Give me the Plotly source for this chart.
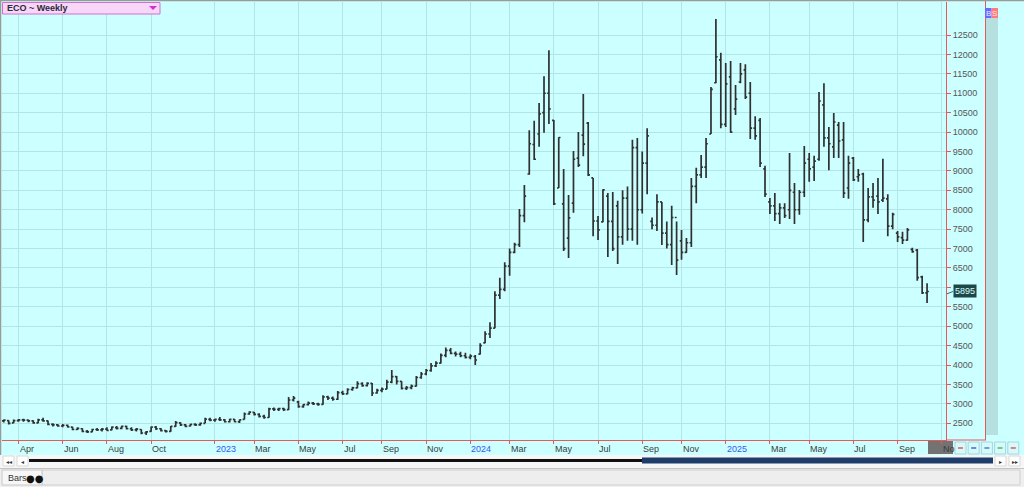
import plotly.graph_objects as go
import pandas as pd

# ---------------- data ----------------
symbol_title = "ECO ~ Weekly"
first_week = "2022-03-11"          # weekly bars, dated Fridays
last_price_label = "5895"

opens = [2560, 2570, 2510, 2570, 2590, 2580, 2560, 2510, 2590, 2560,
         2470, 2460, 2430, 2450, 2400, 2340, 2360, 2290, 2280, 2340,
         2330, 2350, 2330, 2390, 2370, 2420, 2360, 2330, 2340, 2250,
         2290, 2400, 2360, 2310, 2290, 2420, 2510, 2460, 2430, 2470,
         2460, 2500, 2600, 2580, 2600, 2590, 2540, 2600, 2540, 2600,
         2740, 2780, 2730, 2680, 2650, 2870, 2860, 2880, 2850, 3100,
         3050, 2930, 2980, 3020, 3000, 2990, 3180, 3150, 3120, 3290,
         3260, 3370, 3410, 3520, 3470, 3530, 3280, 3350, 3380, 3560,
         3700, 3580, 3400, 3420, 3460, 3680, 3770, 3860, 3980, 4050,
         4250, 4380, 4300, 4280, 4240, 4200, 4220, 4280, 4570, 4800,
         4950, 5800, 5950, 6550, 6900, 7100, 7850, 8920, 9680, 9950,
         10500, 11000, 10300, 8560, 8150, 7270, 8170, 9330, 9920, 10230,
         8820, 7710, 7690, 8350, 7700, 8100, 7300, 8300, 7500, 9600,
         8000, 9200, 7700, 7600, 8200, 7400, 7100, 7800, 7200, 6900,
         7150, 8600, 8900, 9100, 9950, 11270, 11860, 10200, 11420, 10600,
         11290, 11600, 11000, 10100, 10300, 9050, 8200, 8100, 7900, 8050,
         8000, 8450, 8000, 8450, 9300, 9100, 9300, 10700, 9850, 9620,
         10180, 9800, 8560, 9330, 8850, 8920, 7740, 8330, 8350, 8250,
         8280, 7580, 7400, 7280, 7220, 6980, 6960, 6270, 5860]
highs = [2600, 2580, 2600, 2610, 2620, 2600, 2580, 2620, 2640, 2570,
         2500, 2480, 2480, 2470, 2410, 2400, 2370, 2330, 2360, 2380,
         2380, 2400, 2420, 2430, 2440, 2440, 2400, 2380, 2350, 2300,
         2420, 2430, 2380, 2330, 2430, 2560, 2530, 2480, 2490, 2500,
         2520, 2640, 2640, 2620, 2660, 2610, 2620, 2610, 2600, 2780,
         2810, 2790, 2760, 2720, 2900, 2910, 2900, 2900, 3180, 3200,
         3080, 3000, 3060, 3050, 3030, 3220, 3210, 3190, 3330, 3340,
         3400, 3440, 3580, 3560, 3560, 3540, 3390, 3420, 3620, 3870,
         3720, 3580, 3460, 3500, 3720, 3820, 3900, 4050, 4100, 4300,
         4450, 4440, 4350, 4340, 4320, 4280, 4260, 4560, 4870, 5100,
         5900, 6250, 6650, 7000, 7150, 8020, 8640, 10050, 10290, 10750,
         11440, 12110, 10310, 9870, 9050, 8380, 9510, 10000, 10980, 10260,
         8820, 7840, 8530, 8430, 8460, 8230, 8500, 8600, 9800, 9850,
         9500, 10100, 7800, 8400, 8200, 7700, 8100, 7700, 7480, 7270,
         8820, 9080, 9410, 9850, 11160, 12910, 12040, 11780, 11830, 11210,
         11780, 11750, 11290, 10410, 10360, 9130, 8300, 8430, 8170, 8170,
         9460, 8690, 8510, 9640, 9460, 9390, 11030, 11260, 10130, 10490,
         10260, 10260, 9390, 9360, 9050, 8950, 8560, 8690, 8820, 9310,
         8400, 7920, 7450, 7430, 7530, 7020, 6990, 6300, 6110]
lows = [2520, 2470, 2500, 2540, 2540, 2530, 2490, 2500, 2540, 2450,
        2420, 2410, 2400, 2390, 2320, 2330, 2270, 2250, 2270, 2300,
        2290, 2310, 2320, 2340, 2350, 2340, 2300, 2290, 2220, 2200,
        2280, 2330, 2290, 2260, 2280, 2410, 2430, 2400, 2420, 2430,
        2440, 2500, 2550, 2540, 2560, 2520, 2520, 2530, 2510, 2600,
        2720, 2700, 2650, 2620, 2640, 2820, 2820, 2820, 2840, 3060,
        2900, 2900, 2960, 2970, 2950, 2980, 3100, 3080, 3100, 3230,
        3250, 3340, 3400, 3440, 3450, 3200, 3260, 3300, 3380, 3530,
        3500, 3370, 3360, 3380, 3450, 3650, 3740, 3830, 3950, 4040,
        4200, 4280, 4220, 4200, 4170, 4150, 4000, 4270, 4560, 4700,
        4950, 5700, 5900, 6300, 6880, 7040, 7680, 8900, 9280, 9620,
        9980, 10210, 8120, 8560, 6940, 6760, 7920, 9100, 9380, 8870,
        7320, 7220, 7680, 6780, 6940, 6600, 7100, 7200, 7200, 7100,
        7900, 8400, 7500, 7450, 7090, 7000, 6580, 6320, 6710, 6890,
        7040, 8170, 8820, 8820, 9950, 11260, 10100, 10130, 9980, 10440,
        11260, 10850, 9820, 9800, 9100, 8330, 7890, 7710, 7630, 7790,
        7760, 7630, 7870, 8330, 8720, 8740, 9260, 9620, 9020, 9330,
        9330, 8300, 8280, 8740, 8720, 7170, 7680, 8050, 7890, 8200,
        7320, 7500, 7170, 7120, 7200, 6890, 6170, 5830, 5600]
closes = [2580, 2500, 2570, 2590, 2580, 2560, 2510, 2590, 2560, 2470,
          2460, 2430, 2450, 2410, 2340, 2370, 2290, 2280, 2340, 2330,
          2350, 2320, 2400, 2370, 2420, 2360, 2330, 2350, 2250, 2280,
          2400, 2360, 2310, 2290, 2420, 2520, 2460, 2420, 2470, 2460,
          2500, 2610, 2580, 2600, 2590, 2540, 2600, 2540, 2590, 2740,
          2790, 2730, 2680, 2650, 2870, 2860, 2880, 2850, 3100, 3150,
          2930, 2980, 3020, 3000, 2990, 3180, 3150, 3120, 3290, 3260,
          3370, 3410, 3520, 3470, 3530, 3280, 3350, 3380, 3560, 3700,
          3580, 3400, 3420, 3460, 3680, 3770, 3860, 3980, 4050, 4250,
          4380, 4300, 4280, 4240, 4200, 4230, 4130, 4500, 4800, 4950,
          5800, 5950, 6550, 6900, 7100, 7850, 8350, 9700, 9300, 10470,
          11000, 10600, 8150, 9860, 7000, 7790, 9300, 9150, 9690, 8900,
          7710, 7480, 8510, 7700, 7000, 7300, 8300, 7500, 9600, 8000,
          9200, 9900, 7600, 8200, 7400, 7100, 7800, 6700, 6900, 7150,
          8600, 8900, 9100, 9700, 11100, 11940, 10200, 11240, 10000, 10850,
          11500, 10900, 10100, 9900, 9200, 8400, 8100, 7900, 8050, 7850,
          8500, 8000, 8450, 9200, 9050, 9250, 10800, 9850, 9700, 10260,
          9770, 8430, 9200, 8770, 8900, 7740, 8330, 8250, 8200, 8300,
          7580, 7880, 7300, 7220, 7480, 6920, 6250, 5860, 5895]

ytick_values = list(range(2500, 13000, 500))
ytick_labels = ["" if v == 6000 else str(v) for v in ytick_values]   # 6000 is hidden by the last-price box
xtick_dates = ["2022-04-01", "2022-06-03", "2022-08-05", "2022-10-07",
               "2023-01-06", "2023-03-03", "2023-05-05", "2023-07-07",
               "2023-09-01", "2023-11-03", "2024-01-05", "2024-03-01",
               "2024-05-03", "2024-07-05", "2024-09-06", "2024-11-01",
               "2025-01-03", "2025-03-07", "2025-05-02", "2025-07-04",
               "2025-09-05", "2025-11-07"]
xtick_labels = ["Apr", "Jun", "Aug", "Oct", "2023", "Mar", "May", "Jul",
                "Sep", "Nov", "2024", "Mar", "May", "Jul", "Sep", "Nov",
                "2025", "Mar", "May", "Jul", "Sep", "No"]

dates = pd.date_range(first_week, periods=len(closes), freq="7D")

# ---------------- layout geometry (pixels) ----------------
W, H = 1024, 487
PL, PR, PT, PB = 2, 946, 2, 440
PX_PER_DAY = 4.911 / 7.0
FIRST_BAR_PX = 3.8
t0 = pd.Timestamp(first_week)
x_start = t0 - pd.Timedelta(days=(FIRST_BAR_PX - PL) / PX_PER_DAY)
x_end = t0 + pd.Timedelta(days=(PR - FIRST_BAR_PX) / PX_PER_DAY)
y_lo, y_hi = 2070, 13350


def fx(px):
    return (px - PL) / (PR - PL)


def fy(py):
    return (PB - py) / (PB - PT)


BG = "#ccffff"
GRID = "#b2e6e6"
RED = "#e8585a"
BAR = "#303030"
FONT = "Liberation Sans"

fig = go.Figure()
fig.add_trace(go.Ohlc(
    x=dates, open=opens, high=highs, low=lows, close=closes,
    increasing=dict(line=dict(color=BAR, width=1.7)),
    decreasing=dict(line=dict(color=BAR, width=1.7)),
    tickwidth=0.36, showlegend=False, hoverinfo="skip",
))

shapes = []
annotations = []


def label(px, py, text, size=9, color="#333333", family=FONT, xanchor="center", **kw):
    annotations.append(dict(xref="paper", yref="paper", x=fx(px), y=fy(py), text=text,
                            xanchor=xanchor, yanchor="middle", showarrow=False,
                            font=dict(family=family, size=size, color=color), **kw))


# outer frame (top/left gray)
shapes.append(dict(type="line", xref="paper", yref="paper", x0=fx(0), x1=fx(W),
                   y0=fy(0.5), y1=fy(0.5), line=dict(color="#9a9a9a", width=1.5)))
shapes.append(dict(type="line", xref="paper", yref="paper", x0=fx(0.5), x1=fx(0.5),
                   y0=fy(0), y1=fy(H), line=dict(color="#9a9a9a", width=1.5)))
# right axis panel border and extended x-axis line
shapes.append(dict(type="line", xref="paper", yref="paper", x0=fx(985.5), x1=fx(985.5),
                   y0=fy(1), y1=fy(440), line=dict(color=RED, width=1)))
shapes.append(dict(type="line", xref="paper", yref="paper", x0=fx(946), x1=fx(986),
                   y0=fy(440), y1=fy(440), line=dict(color=RED, width=1)))
# side strip
shapes.append(dict(type="rect", xref="paper", yref="paper", x0=fx(986), x1=fx(998),
                   y0=fy(18), y1=fy(435), fillcolor="#b6e0e0", line=dict(width=0)))
# B / S boxes
shapes.append(dict(type="rect", xref="paper", yref="paper", x0=fx(985), x1=fx(991.5),
                   y0=fy(8), y1=fy(18), fillcolor="#6a6aff", line=dict(width=0)))
shapes.append(dict(type="rect", xref="paper", yref="paper", x0=fx(991.5), x1=fx(998),
                   y0=fy(8), y1=fy(18), fillcolor="#ff7a7a", line=dict(width=0)))
label(988.3, 13, "B", size=8, color="#e8e8ff")
label(994.8, 13, "S", size=8, color="#ffe8e8")

# title box
shapes.append(dict(type="rect", xref="paper", yref="paper", x0=fx(2.5), x1=fx(160),
                   y0=fy(2.5), y1=fy(14), fillcolor="#f7d6f7", line=dict(color="#d070d0", width=1)))
shapes.append(dict(type="path", xref="paper", yref="paper",
                   path=f"M {fx(149)},{fy(6)} L {fx(157)},{fy(6)} L {fx(153)},{fy(10)} Z",
                   fillcolor="#d030d0", line=dict(width=0)))
label(5, 8.5, "<b>" + symbol_title + "</b>", size=9, color="#2a2a3a", xanchor="left")

# x-axis labels (left-aligned at month ticks)
for d, lab in zip(xtick_dates, xtick_labels):
    is_year = lab.isdigit()
    annotations.append(dict(xref="x", yref="paper", x=d, y=fy(448.5), text=lab,
                            xanchor="left", yanchor="middle", showarrow=False, xshift=-1,
                            font=dict(family=FONT, size=9, color="#3a55f0" if is_year else "#3c3c3c")))

# gray "current" block on the time axis
shapes.append(dict(type="rect", xref="paper", yref="paper", x0=fx(928), x1=fx(953),
                   y0=fy(441), y1=fy(454), fillcolor="#737373", line=dict(width=0), layer="below"))

# little toolbar buttons at bottom right
btn_colors = ["#e03030", "#2040d0", "#2060e0", "#20b040", "#e03030"]
for k, c in enumerate(btn_colors):
    x0 = 955 + k * 13.2
    shapes.append(dict(type="rect", xref="paper", yref="paper", x0=fx(x0), x1=fx(x0 + 11),
                       y0=fy(442), y1=fy(454), fillcolor="#d6fafa", line=dict(color="#a8d4e0", width=1)))
    shapes.append(dict(type="line", xref="paper", yref="paper", x0=fx(x0 + 3), x1=fx(x0 + 8),
                       y0=fy(448), y1=fy(448), line=dict(color=c, width=1.2)))

# scroll bar row
shapes.append(dict(type="rect", xref="paper", yref="paper", x0=fx(0), x1=fx(W),
                   y0=fy(455), y1=fy(468), fillcolor="#f6f6f6", line=dict(width=0)))
shapes.append(dict(type="line", xref="paper", yref="paper", x0=fx(29), x1=fx(993),
                   y0=fy(460.5), y1=fy(460.5), line=dict(color="#111111", width=3)))
shapes.append(dict(type="rect", xref="paper", yref="paper", x0=fx(642), x1=fx(993),
                   y0=fy(457.5), y1=fy(463.5), fillcolor="#1f3d6a", line=dict(width=0)))
for x0, g in [(3, "◂◂"), (17, "◂"), (995, "▸"), (1009, "▸▸")]:
    shapes.append(dict(type="rect", xref="paper", yref="paper", x0=fx(x0), x1=fx(x0 + 11),
                       y0=fy(456), y1=fy(466), fillcolor="#ffffff", line=dict(color="#d8d8d8", width=1)))
    label(x0 + 5.5, 461, g, size=6, family="DejaVu Sans", color="#333333")

# status bar
shapes.append(dict(type="rect", xref="paper", yref="paper", x0=fx(0), x1=fx(W),
                   y0=fy(468), y1=fy(H), fillcolor="#efefef", line=dict(width=0)))
shapes.append(dict(type="line", xref="paper", yref="paper", x0=fx(0), x1=fx(W),
                   y0=fy(468.5), y1=fy(468.5), line=dict(color="#c4c4c4", width=1)))
shapes.append(dict(type="rect", xref="paper", yref="paper", x0=fx(42), x1=fx(1020),
                   y0=fy(470), y1=fy(485), fillcolor="#eeeeee", line=dict(color="#cfcfcf", width=1)))
shapes.append(dict(type="rect", xref="paper", yref="paper", x0=fx(2), x1=fx(42),
                   y0=fy(470), y1=fy(485), fillcolor="#f7f7f7", line=dict(color="#c8c8c8", width=1)))
label(6, 478, "Bars", size=9, color="#333333", xanchor="left")
label(24, 478, "●●", size=10, family="DejaVu Sans", color="#111111", xanchor="left")

# last price marker
shapes.append(dict(type="line", xref="paper", yref="y", x0=fx(947), x1=fx(953),
                   y0=closes[-1] - 60, y1=closes[-1], line=dict(color="#3a6a6a", width=1)))
annotations.append(dict(xref="paper", yref="y", x=fx(953), y=closes[-1], text=last_price_label,
                        xanchor="left", yanchor="middle", showarrow=False, bgcolor="#1d4646",
                        borderpad=1, font=dict(family=FONT, size=9, color="#d8ffff")))

fig.update_layout(
    width=W, height=H,
    margin=dict(l=PL, r=W - PR, t=PT, b=H - PB, pad=0),
    paper_bgcolor=BG, plot_bgcolor=BG,
    shapes=shapes, annotations=annotations,
    xaxis=dict(type="date", range=[x_start, x_end], rangeslider=dict(visible=False),
               tickmode="array", tickvals=xtick_dates, showticklabels=False,
               ticks="outside", ticklen=3, tickcolor=RED, tickwidth=1,
               showgrid=True, gridcolor=GRID, gridwidth=1,
               showline=True, linecolor=RED, linewidth=1, zeroline=False, fixedrange=True),
    yaxis=dict(side="right", range=[y_lo, y_hi], tickmode="array", tickvals=ytick_values,
               ticktext=ytick_labels,
               ticks="outside", ticklen=4, tickcolor=RED, tickwidth=1,
               tickfont=dict(family=FONT, size=9, color="#555555"),
               showgrid=True, gridcolor=GRID, gridwidth=1,
               showline=True, linecolor=RED, linewidth=1, zeroline=False, fixedrange=True),
    hovermode=False,
)

fig.write_html("out.html", config=dict(displayModeBar=False),
               post_script="document.body.style.margin='0';document.body.style.padding='0';")
